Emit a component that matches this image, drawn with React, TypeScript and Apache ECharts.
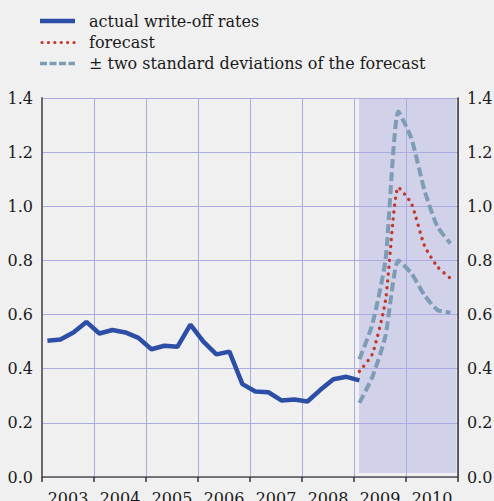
import React, { useEffect, useRef } from "react";
import * as echarts from "echarts";

// x-axis year categories
const years = ["2003", "2004", "2005", "2006", "2007", "2008", "2009", "2010"];
const yTicks = [0, 0.2, 0.4, 0.6, 0.8, 1.0, 1.2, 1.4];

// actual write-off rates, quarterly 2003Q1 .. 2009Q1
const actualStartYear = 2003;
const actualValues = [
  0.503, 0.508, 0.534, 0.573, 0.53, 0.543, 0.534, 0.514, 0.472, 0.485, 0.481, 0.563,
  0.5, 0.453, 0.463, 0.343, 0.316, 0.313, 0.283, 0.286, 0.279, 0.322, 0.361, 0.37, 0.357,
];

// forecasts, quarterly 2009Q1 .. 2010Q4
const forecastStartYear = 2009;
const forecastValues = [0.39, 0.455, 0.65, 1.07, 1.01, 0.855, 0.777, 0.734];
const upperBand = [0.435, 0.565, 0.8, 1.35, 1.25, 1.06, 0.925, 0.863];
const lowerBand = [0.274, 0.37, 0.52, 0.8, 0.752, 0.672, 0.617, 0.607];

// legend labels
const legendLabels = [
  "actual write-off rates",
  "forecast",
  "± two standard deviations of the forecast",
];

// forecast period shading (in years)
const shadeFrom = 2009.096;
const shadeTo = 2010.97;

const quarterOffset = 0.104;
const toPairs = (start: number, vals: number[]) =>
  vals.map((v, i) => [start + i * 0.25 + quarterOffset, v]);

const FONT = "DejaVu Serif";
const FS = 16;
const TEXT = "#1a1a1a";
const GRID = "#aaace0";
const BLUE = "#2c4ea6";
const RED = "#c0392b";
const DASH = "#7f9cb6";

export default function App() {
  const ref = useRef<HTMLDivElement>(null);

  useEffect(() => {
    document.body.style.margin = "0";
    document.body.style.overflow = "hidden";
    document.body.style.background = "#f0f0f0";
    if (!ref.current) return;
    const chart = echarts.init(ref.current, undefined, { renderer: "svg" });

    const legendRows = [
      { y: 21, color: BLUE, width: 4.5, dash: null as any, cap: "butt" },
      { y: 42.5, color: RED, width: 3.2, dash: [0.1, 6.3], cap: "round" },
      { y: 63.5, color: DASH, width: 3.5, dash: [7, 2.5], cap: "butt" },
    ];

    const graphic: any[] = legendRows.map((r) => ({
      type: "line",
      shape: { x1: r.cap === "round" ? 42 : 40, y1: r.y, x2: 75, y2: r.y },
      style: {
        stroke: r.color,
        lineWidth: r.width,
        lineDash: r.dash || undefined,
        lineCap: r.cap,
      },
      silent: true,
    }));

    const titles = legendRows.map((r, i) => ({
      text: legendLabels[i],
      left: 89,
      top: r.y - 10,
      padding: 0,
      textStyle: {
        fontFamily: FONT,
        fontSize: FS,
        fontWeight: "normal",
        color: TEXT,
        lineHeight: 20,
      },
    }));

    const yLabel = {
      fontFamily: FONT,
      fontSize: FS,
      color: TEXT,
      formatter: (v: number) => v.toFixed(1),
    };

    chart.setOption({
      animation: false,
      backgroundColor: "#f0f0f0",
      title: titles,
      grid: {
        left: 42,
        right: 36,
        top: 98,
        bottom: 24,
        containLabel: false,
        outerBoundsMode: "none",
      },
      graphic,
      xAxis: [
        {
          type: "category",
          data: years,
          boundaryGap: true,
          position: "bottom",
          axisLine: { show: true, lineStyle: { color: "#555", width: 1.5 } },
          axisTick: { show: true, interval: 0, length: 5, lineStyle: { color: "#333", width: 1.5 } },
          axisLabel: { interval: 0, fontFamily: FONT, fontSize: FS, color: TEXT, margin: 13 },
          splitLine: { show: true, interval: 0, lineStyle: { color: GRID, width: 1 } },
        },
        {
          type: "value",
          min: 2003,
          max: 2011,
          show: false,
        },
      ],
      yAxis: [
        {
          type: "value",
          position: "left",
          min: 0,
          max: 1.4,
          interval: 0.2,
          axisLine: { show: true, lineStyle: { color: "#6a6a6a", width: 2 } },
          axisTick: { show: false },
          axisLabel: { ...yLabel, margin: 9 },
          splitLine: { show: true, lineStyle: { color: GRID, width: 1 } },
        },
        {
          type: "value",
          position: "right",
          min: 0,
          max: 1.4,
          interval: 0.2,
          axisLine: { show: true, lineStyle: { color: "#333", width: 1.5 } },
          axisTick: { show: false },
          axisLabel: { ...yLabel, margin: 9 },
          splitLine: { show: false },
        },
      ],
      series: [
        {
          type: "line",
          name: "shade",
          xAxisIndex: 1,
          yAxisIndex: 0,
          data: [],
          z: -1,
          silent: true,
          markArea: {
            silent: true,
            z: -1,
            itemStyle: { color: "#d1d1e9", borderWidth: 0 },
            data: [[{ coord: [shadeFrom, 0.015] }, { coord: [shadeTo, yTicks[yTicks.length - 1]] }]],
          },
        },
        {
          type: "line",
          name: "upper",
          xAxisIndex: 1,
          data: toPairs(forecastStartYear, upperBand),
          symbol: "none",
          smooth: 0.2,
          lineStyle: { color: DASH, width: 4, type: [9, 4] },
          z: 3,
        },
        {
          type: "line",
          name: "lower",
          xAxisIndex: 1,
          data: toPairs(forecastStartYear, lowerBand),
          symbol: "none",
          smooth: 0.2,
          lineStyle: { color: DASH, width: 4, type: [9, 4] },
          z: 3,
        },
        {
          type: "line",
          name: "forecast",
          xAxisIndex: 1,
          data: toPairs(forecastStartYear, forecastValues),
          symbol: "none",
          smooth: 0.2,
          lineStyle: { color: RED, width: 3.4, type: [0.1, 6.8], cap: "round" },
          z: 4,
        },
        {
          type: "line",
          name: "actual",
          xAxisIndex: 1,
          data: toPairs(actualStartYear, actualValues),
          symbol: "none",
          lineStyle: { color: BLUE, width: 4.5 },
          z: 5,
        },
      ],
    });

    return () => chart.dispose();
  }, []);

  return (
    <div
      ref={ref}
      style={{ width: 494, height: 501, background: "#f0f0f0", overflow: "hidden" }}
    />
  );
}
